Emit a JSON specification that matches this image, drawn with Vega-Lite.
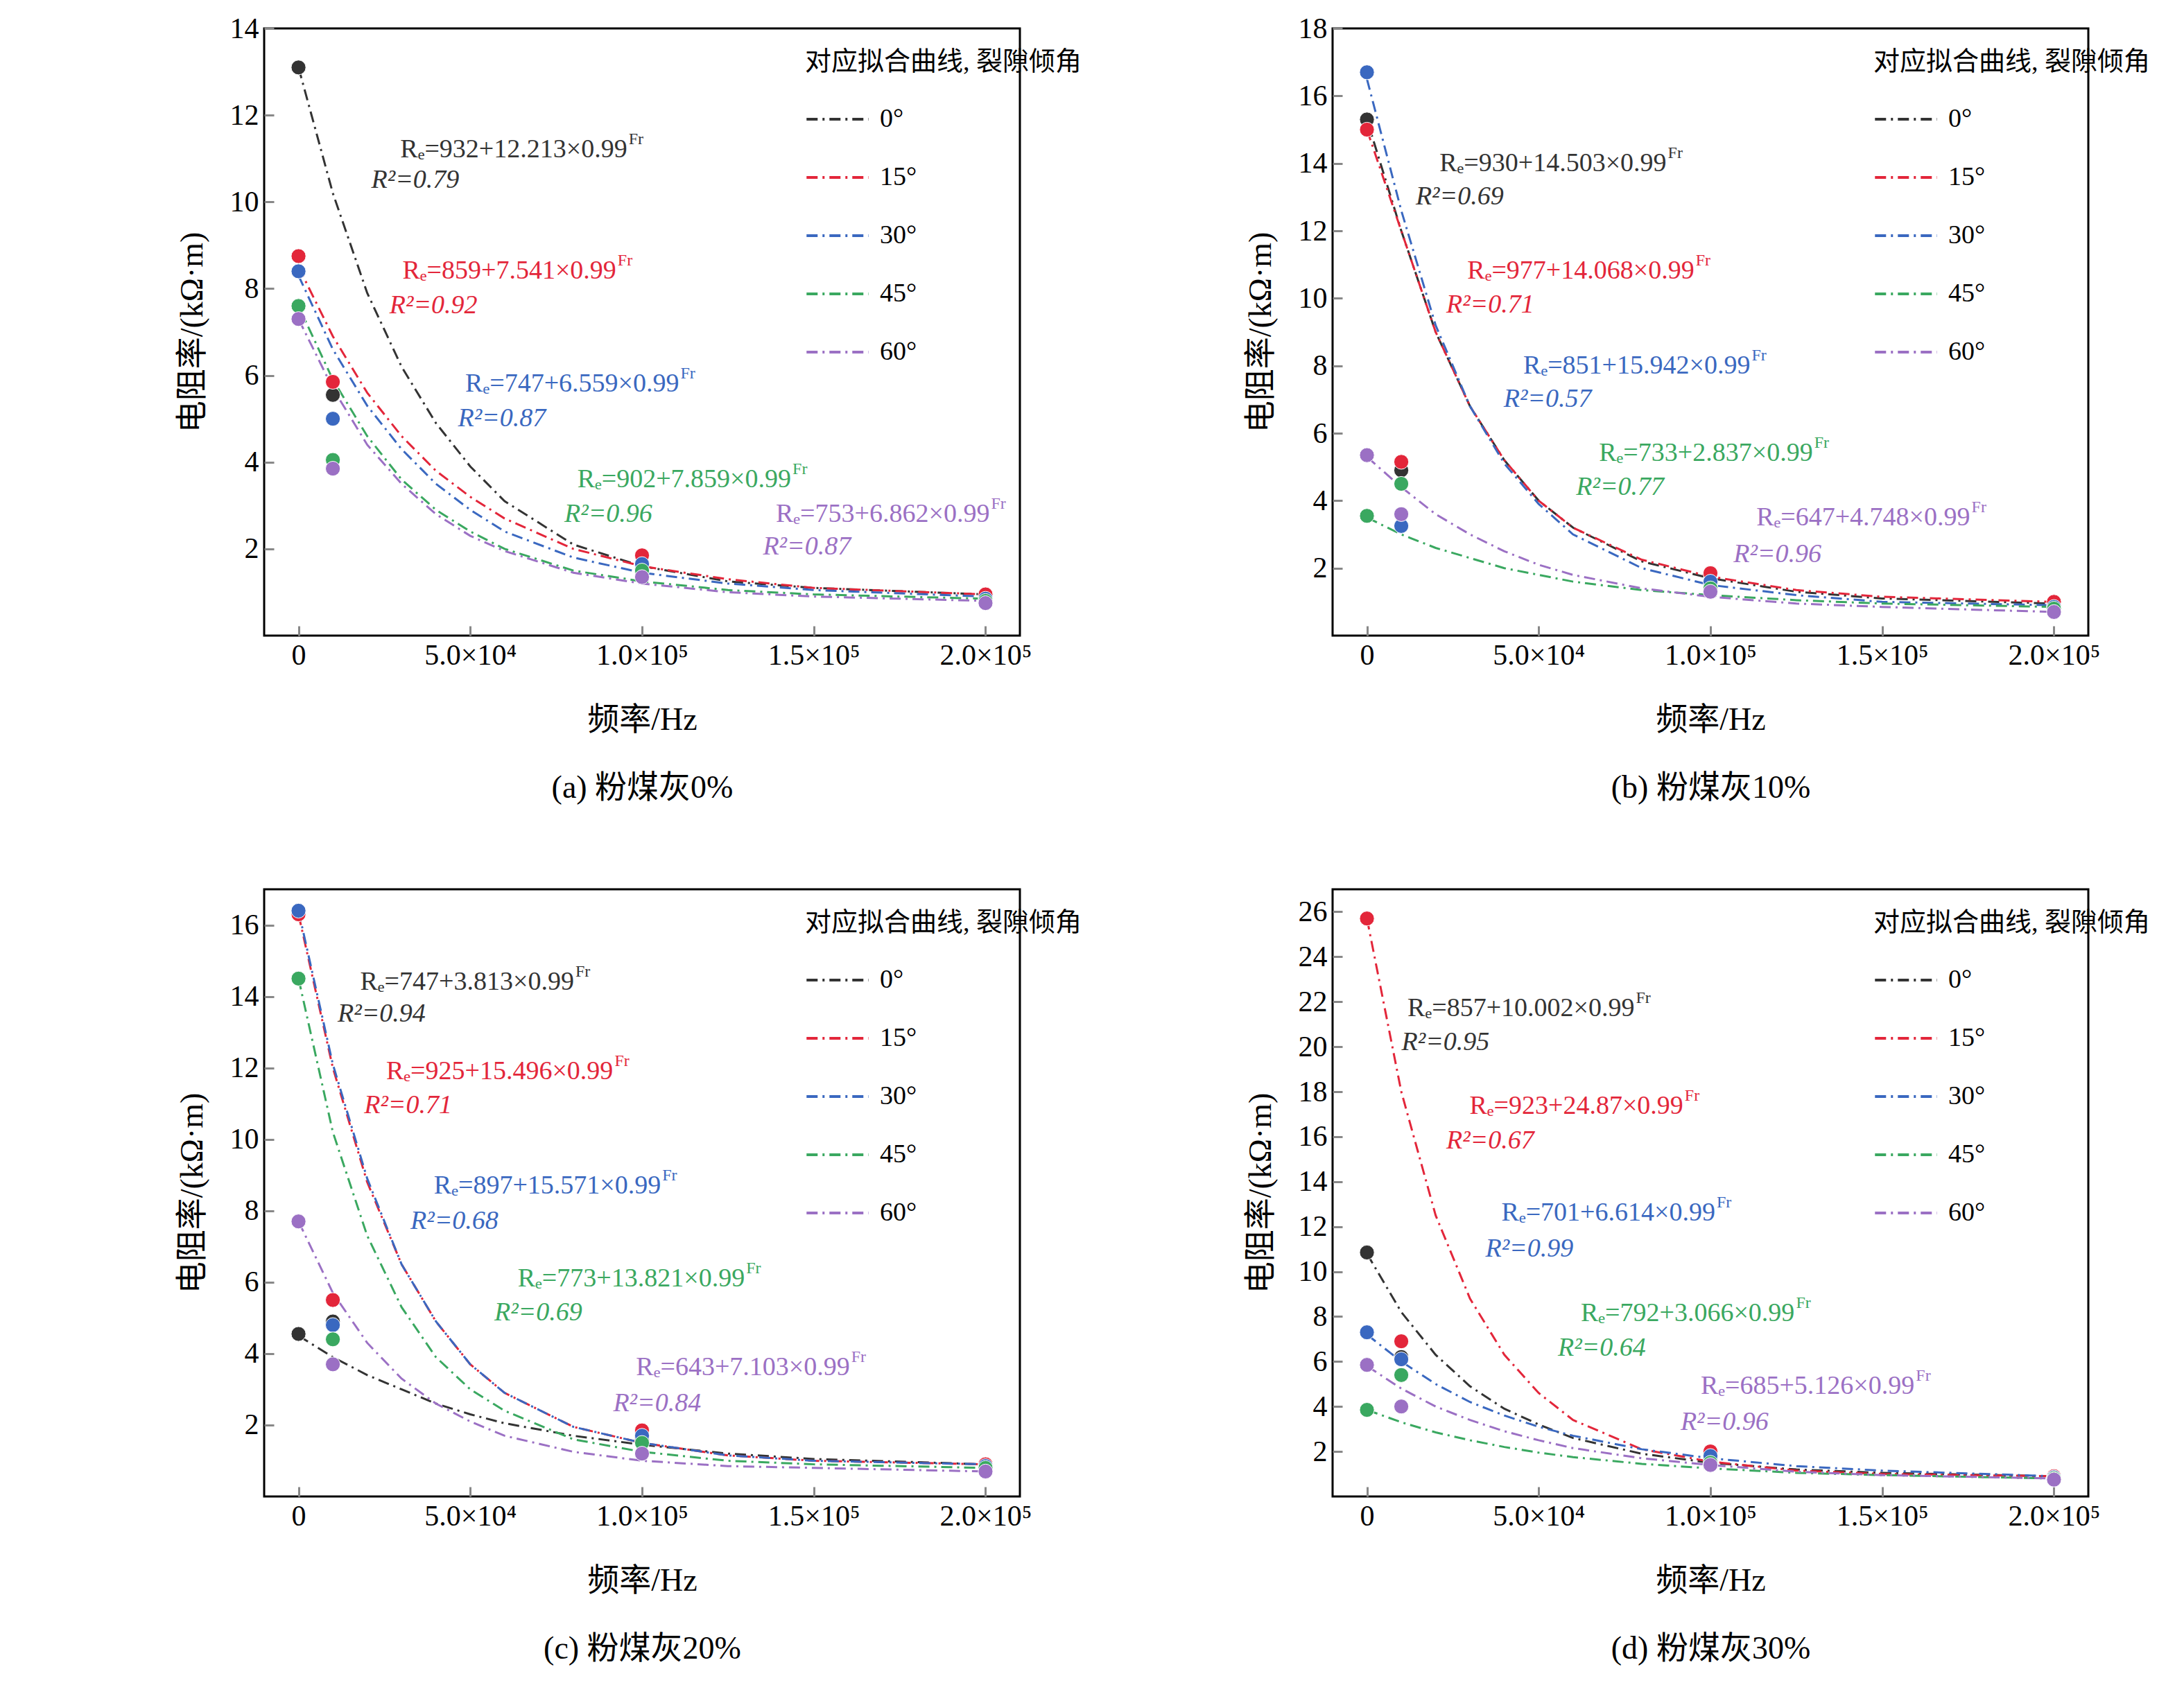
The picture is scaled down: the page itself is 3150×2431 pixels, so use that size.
{
  "$schema": "https://vega.github.io/schema/vega-lite/v6.json",
  "padding": {"left": 252, "top": 18, "right": 20, "bottom": 10},
  "background": "white",
  "config": {
    "font": "Liberation Serif, Noto Sans CJK SC",
    "view": {"stroke": "black", "strokeWidth": 3},
    "axis": {"grid": false, "domain": false, "tickSize": -14, "tickWidth": 3, "labelFontSize": 42, "titleFontSize": 46, "titleFontWeight": "normal", "labelColor": "black", "titleColor": "black", "labelPadding": 22},
    "legend": {"titleFontSize": 38, "labelFontSize": 38, "titleFontWeight": "normal", "titleColor": "black", "labelColor": "black", "rowPadding": 18, "titlePadding": 16, "labelOffset": 30, "titleLimit": 1000, "labelLimit": 500},
    "text": {"fontSize": 38},
    "concat": {"spacing": 120}
  },
  "resolve": {"scale": {"color": "independent", "stroke": "independent", "fill": "independent"}, "legend": {"color": "independent", "stroke": "independent", "fill": "independent"}},
  "datasets": {
    "fit": [
      {"p":"a","x":0,"0°":13.1,"15°":8.5,"30°":8.3,"45°":7.6,"60°":7.3},
      {"p":"a","x":10000,"0°":10.2,"15°":6.9,"30°":6.6,"45°":5.9,"60°":5.7},
      {"p":"a","x":20000,"0°":7.9,"15°":5.6,"30°":5.3,"45°":4.6,"60°":4.4},
      {"p":"a","x":30000,"0°":6.2,"15°":4.6,"30°":4.3,"45°":3.6,"60°":3.5},
      {"p":"a","x":40000,"0°":4.9,"15°":3.8,"30°":3.5,"45°":2.9,"60°":2.8},
      {"p":"a","x":50000,"0°":3.9,"15°":3.2,"30°":2.9,"45°":2.4,"60°":2.3},
      {"p":"a","x":60000,"0°":3.1,"15°":2.7,"30°":2.4,"45°":2.0,"60°":1.95},
      {"p":"a","x":80000,"0°":2.1,"15°":2.0,"30°":1.8,"45°":1.5,"60°":1.45},
      {"p":"a","x":100000,"0°":1.6,"15°":1.6,"30°":1.45,"45°":1.25,"60°":1.2},
      {"p":"a","x":125000,"0°":1.25,"15°":1.3,"30°":1.2,"45°":1.05,"60°":1.0},
      {"p":"a","x":150000,"0°":1.1,"15°":1.1,"30°":1.05,"45°":0.95,"60°":0.9},
      {"p":"a","x":200000,"0°":0.95,"15°":0.95,"30°":0.9,"45°":0.85,"60°":0.8},
      {"p":"b","x":0,"0°":15.3,"15°":15.0,"30°":16.5,"45°":3.5,"60°":5.3},
      {"p":"b","x":10000,"0°":12.0,"15°":12.0,"30°":12.6,"45°":3.0,"60°":4.4},
      {"p":"b","x":20000,"0°":9.0,"15°":9.0,"30°":9.2,"45°":2.6,"60°":3.6},
      {"p":"b","x":30000,"0°":6.8,"15°":6.8,"30°":6.8,"45°":2.3,"60°":3.0},
      {"p":"b","x":40000,"0°":5.2,"15°":5.2,"30°":5.1,"45°":2.0,"60°":2.5},
      {"p":"b","x":50000,"0°":4.0,"15°":4.0,"30°":3.9,"45°":1.8,"60°":2.1},
      {"p":"b","x":60000,"0°":3.2,"15°":3.2,"30°":3.0,"45°":1.6,"60°":1.8},
      {"p":"b","x":80000,"0°":2.2,"15°":2.25,"30°":2.0,"45°":1.35,"60°":1.4},
      {"p":"b","x":100000,"0°":1.7,"15°":1.75,"30°":1.5,"45°":1.2,"60°":1.15},
      {"p":"b","x":125000,"0°":1.3,"15°":1.35,"30°":1.2,"45°":1.05,"60°":0.95},
      {"p":"b","x":150000,"0°":1.1,"15°":1.15,"30°":1.0,"45°":0.95,"60°":0.85},
      {"p":"b","x":200000,"0°":0.95,"15°":1.0,"30°":0.9,"45°":0.85,"60°":0.7},
      {"p":"c","x":0,"0°":4.5,"15°":16.3,"30°":16.4,"45°":14.5,"60°":7.7},
      {"p":"c","x":10000,"0°":3.9,"15°":12.0,"30°":12.1,"45°":10.2,"60°":5.7},
      {"p":"c","x":20000,"0°":3.4,"15°":8.8,"30°":8.9,"45°":7.3,"60°":4.3},
      {"p":"c","x":30000,"0°":3.0,"15°":6.5,"30°":6.5,"45°":5.3,"60°":3.3},
      {"p":"c","x":40000,"0°":2.6,"15°":4.9,"30°":4.9,"45°":3.9,"60°":2.6},
      {"p":"c","x":50000,"0°":2.3,"15°":3.7,"30°":3.7,"45°":3.0,"60°":2.1},
      {"p":"c","x":60000,"0°":2.05,"15°":2.9,"30°":2.9,"45°":2.4,"60°":1.7},
      {"p":"c","x":80000,"0°":1.7,"15°":1.95,"30°":1.95,"45°":1.6,"60°":1.25},
      {"p":"c","x":100000,"0°":1.45,"15°":1.5,"30°":1.5,"45°":1.25,"60°":1.0},
      {"p":"c","x":125000,"0°":1.2,"15°":1.15,"30°":1.15,"45°":1.0,"60°":0.85},
      {"p":"c","x":150000,"0°":1.05,"15°":1.0,"30°":1.0,"45°":0.9,"60°":0.8},
      {"p":"c","x":200000,"0°":0.9,"15°":0.9,"30°":0.9,"45°":0.8,"60°":0.7},
      {"p":"d","x":0,"0°":10.8,"15°":25.7,"30°":7.2,"45°":3.85,"60°":5.8},
      {"p":"d","x":10000,"0°":8.2,"15°":18.0,"30°":6.0,"45°":3.3,"60°":4.8},
      {"p":"d","x":20000,"0°":6.3,"15°":12.5,"30°":5.0,"45°":2.85,"60°":4.0},
      {"p":"d","x":30000,"0°":4.9,"15°":8.8,"30°":4.2,"45°":2.5,"60°":3.4},
      {"p":"d","x":40000,"0°":3.9,"15°":6.3,"30°":3.6,"45°":2.2,"60°":2.9},
      {"p":"d","x":50000,"0°":3.2,"15°":4.6,"30°":3.1,"45°":1.95,"60°":2.5},
      {"p":"d","x":60000,"0°":2.6,"15°":3.4,"30°":2.7,"45°":1.75,"60°":2.15},
      {"p":"d","x":80000,"0°":1.9,"15°":2.1,"30°":2.1,"45°":1.45,"60°":1.7},
      {"p":"d","x":100000,"0°":1.5,"15°":1.55,"30°":1.7,"45°":1.25,"60°":1.4},
      {"p":"d","x":125000,"0°":1.2,"15°":1.15,"30°":1.35,"45°":1.05,"60°":1.1},
      {"p":"d","x":150000,"0°":1.05,"15°":1.0,"30°":1.15,"45°":0.95,"60°":0.95},
      {"p":"d","x":200000,"0°":0.9,"15°":0.9,"30°":0.9,"45°":0.8,"60°":0.8}
    ],
    "pts": [
      {"p":"a","x":0,"0°":13.1,"15°":8.75,"30°":8.4,"45°":7.6,"60°":7.3},
      {"p":"a","x":10000,"0°":5.55,"15°":5.85,"30°":5.0,"45°":4.05,"60°":3.85},
      {"p":"a","x":100000,"0°":1.5,"15°":1.85,"30°":1.65,"45°":1.5,"60°":1.35},
      {"p":"a","x":200000,"0°":0.9,"15°":0.95,"30°":0.85,"45°":0.8,"60°":0.75},
      {"p":"b","x":0,"0°":15.3,"15°":15.0,"30°":16.7,"45°":3.55,"60°":5.35},
      {"p":"b","x":10000,"0°":4.9,"15°":5.15,"30°":3.25,"45°":4.5,"60°":3.6},
      {"p":"b","x":100000,"0°":1.5,"15°":1.85,"30°":1.6,"45°":1.4,"60°":1.3},
      {"p":"b","x":200000,"0°":0.9,"15°":1.0,"30°":0.85,"45°":0.8,"60°":0.7},
      {"p":"c","x":0,"0°":4.55,"15°":16.3,"30°":16.4,"45°":14.5,"60°":7.7},
      {"p":"c","x":10000,"0°":4.9,"15°":5.5,"30°":4.8,"45°":4.4,"60°":3.7},
      {"p":"c","x":100000,"0°":1.6,"15°":1.85,"30°":1.7,"45°":1.5,"60°":1.2},
      {"p":"c","x":200000,"0°":0.9,"15°":0.9,"30°":0.85,"45°":0.8,"60°":0.7},
      {"p":"d","x":0,"0°":10.85,"15°":25.7,"30°":7.3,"45°":3.85,"60°":5.85},
      {"p":"d","x":10000,"0°":6.2,"15°":6.9,"30°":6.1,"45°":5.4,"60°":4.0},
      {"p":"d","x":100000,"0°":1.7,"15°":2.0,"30°":1.8,"45°":1.5,"60°":1.4},
      {"p":"d","x":200000,"0°":0.85,"15°":0.9,"30°":0.85,"45°":0.8,"60°":0.75}
    ],
    "eq": [
      {"p":"a","k":"0°","xl":21200,"xr":95700,"y":11.2,"ry":10.5,"eq":"Rₑ=932+12.213×0.99","r2":"R²=0.79"},
      {"p":"a","k":"15°","xl":26500,"xr":92500,"y":8.4,"ry":7.6,"eq":"Rₑ=859+7.541×0.99","r2":"R²=0.92"},
      {"p":"a","k":"30°","xl":46400,"xr":110800,"y":5.8,"ry":5.0,"eq":"Rₑ=747+6.559×0.99","r2":"R²=0.87"},
      {"p":"a","k":"45°","xl":77400,"xr":143400,"y":3.6,"ry":2.8,"eq":"Rₑ=902+7.859×0.99","r2":"R²=0.96"},
      {"p":"a","k":"60°","xl":135200,"xr":201200,"y":2.8,"ry":2.05,"eq":"Rₑ=753+6.862×0.99","r2":"R²=0.87"},
      {"p":"b","k":"0°","xl":14200,"xr":87200,"y":14.0,"ry":13.0,"eq":"Rₑ=930+14.503×0.99","r2":"R²=0.69"},
      {"p":"b","k":"15°","xl":23100,"xr":95300,"y":10.8,"ry":9.8,"eq":"Rₑ=977+14.068×0.99","r2":"R²=0.71"},
      {"p":"b","k":"30°","xl":39800,"xr":111600,"y":8.0,"ry":7.0,"eq":"Rₑ=851+15.942×0.99","r2":"R²=0.57"},
      {"p":"b","k":"45°","xl":60900,"xr":129800,"y":5.4,"ry":4.4,"eq":"Rₑ=733+2.837×0.99","r2":"R²=0.77"},
      {"p":"b","k":"60°","xl":106700,"xr":175600,"y":3.5,"ry":2.4,"eq":"Rₑ=647+4.748×0.99","r2":"R²=0.96"},
      {"p":"c","k":"0°","xl":11400,"xr":80200,"y":14.4,"ry":13.5,"eq":"Rₑ=747+3.813×0.99","r2":"R²=0.94"},
      {"p":"c","k":"15°","xl":19100,"xr":91600,"y":11.9,"ry":10.95,"eq":"Rₑ=925+15.496×0.99","r2":"R²=0.71"},
      {"p":"c","k":"30°","xl":32600,"xr":105500,"y":8.7,"ry":7.7,"eq":"Rₑ=897+15.571×0.99","r2":"R²=0.68"},
      {"p":"c","k":"45°","xl":57000,"xr":129900,"y":6.1,"ry":5.15,"eq":"Rₑ=773+13.821×0.99","r2":"R²=0.69"},
      {"p":"c","k":"60°","xl":91600,"xr":160500,"y":3.6,"ry":2.6,"eq":"Rₑ=643+7.103×0.99","r2":"R²=0.84"},
      {"p":"d","k":"0°","xl":10100,"xr":77900,"y":21.7,"ry":20.2,"eq":"Rₑ=857+10.002×0.99","r2":"R²=0.95"},
      {"p":"d","k":"15°","xl":23100,"xr":92100,"y":17.35,"ry":15.8,"eq":"Rₑ=923+24.87×0.99","r2":"R²=0.67"},
      {"p":"d","k":"30°","xl":34500,"xr":101400,"y":12.6,"ry":11.0,"eq":"Rₑ=701+6.614×0.99","r2":"R²=0.99"},
      {"p":"d","k":"45°","xl":55600,"xr":124500,"y":8.15,"ry":6.6,"eq":"Rₑ=792+3.066×0.99","r2":"R²=0.64"},
      {"p":"d","k":"60°","xl":91300,"xr":159400,"y":4.9,"ry":3.3,"eq":"Rₑ=685+5.126×0.99","r2":"R²=0.96"}
    ]
  },
  "vconcat": [
    {"resolve": {"scale": {"color": "independent", "stroke": "independent", "fill": "independent"}, "legend": {"color": "independent", "stroke": "independent", "fill": "independent"}}, "spacing": 230, "hconcat": [
      {"width": 1090, "height": 876, "layer": [
        {"data": {"name": "fit"}, "transform": [{"filter": "datum.p == 'a'"}, {"fold": ["0°","15°","30°","45°","60°"], "as": ["sl","y"]}],
         "mark": {"type": "line", "strokeDash": [16,7,3,7], "strokeWidth": 3},
         "encoding": {
           "x": {"field": "x", "type": "quantitative", "scale": {"domain": [-10000, 210000], "nice": false}, "axis": {"values": [0,50000,100000,150000,200000], "labelExpr": "datum.value == 0 ? '0' : datum.value == 50000 ? '5.0×10⁴' : datum.value == 100000 ? '1.0×10⁵' : datum.value == 150000 ? '1.5×10⁵' : '2.0×10⁵'", "title": ["频率/Hz", "(a) 粉煤灰0%"], "titleLineHeight": 98, "titlePadding": 50}},
           "y": {"field": "y", "type": "quantitative", "scale": {"domain": [0, 14], "nice": false}, "axis": {"values": [2,4,6,8,10,12,14], "format": "d", "title": "电阻率/(kΩ·m)", "titlePadding": 30}},
           "stroke": {"field": "sl", "type": "nominal", "scale": {"domain": ["0°","15°","30°","45°","60°"], "range": ["#333333","#e3263a","#3a68c0","#3aa860","#9b70c4"]}, "legend": {"title": "对应拟合曲线", "orient": "none", "legendX": 780, "legendY": 30, "symbolType": "stroke", "symbolSize": 8000, "symbolStrokeWidth": 4, "symbolDash": [16,7,3,7], "labelOffset": 14}}}},
        {"data": {"name": "pts"}, "transform": [{"filter": "datum.p == 'a'"}, {"fold": ["0°","15°","30°","45°","60°"], "as": ["s","y"]}],
         "mark": {"type": "point", "filled": true, "shape": "circle", "size": 450, "opacity": 1, "stroke": "white", "strokeWidth": 1},
         "encoding": {"x": {"field": "x", "type": "quantitative"}, "y": {"field": "y", "type": "quantitative"},
           "color": {"field": "s", "type": "nominal", "scale": {"domain": ["0°","15°","30°","45°","60°"], "range": ["#333333","#e3263a","#3a68c0","#3aa860","#9b70c4"]}, "legend": {"title": "裂隙倾角", "orient": "none", "legendX": 600, "legendY": 30, "symbolSize": 450}}}},
        {"data": {"name": "eq"}, "transform": [{"filter": "datum.p == 'a'"}], "mark": {"type": "text", "align": "right", "baseline": "middle"},
         "encoding": {"x": {"field": "xr", "type": "quantitative"}, "y": {"field": "y", "type": "quantitative"}, "text": {"field": "eq"}, "fill": {"field": "k", "type": "nominal", "scale": {"domain": ["0°","15°","30°","45°","60°"], "range": ["#333333","#e3263a","#3a68c0","#3aa860","#9b70c4"]}, "legend": null}}},
        {"data": {"name": "eq"}, "transform": [{"filter": "datum.p == 'a'"}], "mark": {"type": "text", "align": "left", "baseline": "middle", "fontSize": 24, "dy": -15, "dx": 2, "text": "Fr"},
         "encoding": {"x": {"field": "xr", "type": "quantitative"}, "y": {"field": "y", "type": "quantitative"}, "fill": {"field": "k", "type": "nominal", "legend": null}}},
        {"data": {"name": "eq"}, "transform": [{"filter": "datum.p == 'a'"}], "mark": {"type": "text", "align": "left", "baseline": "middle", "fontStyle": "italic"},
         "encoding": {"x": {"field": "xl", "type": "quantitative"}, "y": {"field": "ry", "type": "quantitative"}, "text": {"field": "r2"}, "fill": {"field": "k", "type": "nominal", "legend": null}}}
      ]},
      {"width": 1090, "height": 876, "layer": [
        {"data": {"name": "fit"}, "transform": [{"filter": "datum.p == 'b'"}, {"fold": ["0°","15°","30°","45°","60°"], "as": ["sl","y"]}],
         "mark": {"type": "line", "strokeDash": [16,7,3,7], "strokeWidth": 3},
         "encoding": {
           "x": {"field": "x", "type": "quantitative", "scale": {"domain": [-10000, 210000], "nice": false}, "axis": {"values": [0,50000,100000,150000,200000], "labelExpr": "datum.value == 0 ? '0' : datum.value == 50000 ? '5.0×10⁴' : datum.value == 100000 ? '1.0×10⁵' : datum.value == 150000 ? '1.5×10⁵' : '2.0×10⁵'", "title": ["频率/Hz", "(b) 粉煤灰10%"], "titleLineHeight": 98, "titlePadding": 50}},
           "y": {"field": "y", "type": "quantitative", "scale": {"domain": [0, 18], "nice": false}, "axis": {"values": [2,4,6,8,10,12,14,16,18], "format": "d", "title": "电阻率/(kΩ·m)", "titlePadding": 30}},
           "stroke": {"field": "sl", "type": "nominal", "scale": {"domain": ["0°","15°","30°","45°","60°"], "range": ["#333333","#e3263a","#3a68c0","#3aa860","#9b70c4"]}, "legend": {"title": "对应拟合曲线", "orient": "none", "legendX": 780, "legendY": 30, "symbolType": "stroke", "symbolSize": 8000, "symbolStrokeWidth": 4, "symbolDash": [16,7,3,7], "labelOffset": 14}}}},
        {"data": {"name": "pts"}, "transform": [{"filter": "datum.p == 'b'"}, {"fold": ["0°","15°","30°","45°","60°"], "as": ["s","y"]}],
         "mark": {"type": "point", "filled": true, "shape": "circle", "size": 450, "opacity": 1, "stroke": "white", "strokeWidth": 1},
         "encoding": {"x": {"field": "x", "type": "quantitative"}, "y": {"field": "y", "type": "quantitative"},
           "color": {"field": "s", "type": "nominal", "scale": {"domain": ["0°","15°","30°","45°","60°"], "range": ["#333333","#e3263a","#3a68c0","#3aa860","#9b70c4"]}, "legend": {"title": "裂隙倾角", "orient": "none", "legendX": 600, "legendY": 30, "symbolSize": 450}}}},
        {"data": {"name": "eq"}, "transform": [{"filter": "datum.p == 'b'"}], "mark": {"type": "text", "align": "right", "baseline": "middle"},
         "encoding": {"x": {"field": "xr", "type": "quantitative"}, "y": {"field": "y", "type": "quantitative"}, "text": {"field": "eq"}, "fill": {"field": "k", "type": "nominal", "scale": {"domain": ["0°","15°","30°","45°","60°"], "range": ["#333333","#e3263a","#3a68c0","#3aa860","#9b70c4"]}, "legend": null}}},
        {"data": {"name": "eq"}, "transform": [{"filter": "datum.p == 'b'"}], "mark": {"type": "text", "align": "left", "baseline": "middle", "fontSize": 24, "dy": -15, "dx": 2, "text": "Fr"},
         "encoding": {"x": {"field": "xr", "type": "quantitative"}, "y": {"field": "y", "type": "quantitative"}, "fill": {"field": "k", "type": "nominal", "legend": null}}},
        {"data": {"name": "eq"}, "transform": [{"filter": "datum.p == 'b'"}], "mark": {"type": "text", "align": "left", "baseline": "middle", "fontStyle": "italic"},
         "encoding": {"x": {"field": "xl", "type": "quantitative"}, "y": {"field": "ry", "type": "quantitative"}, "text": {"field": "r2"}, "fill": {"field": "k", "type": "nominal", "legend": null}}}
      ]}
    ]},
    {"resolve": {"scale": {"color": "independent", "stroke": "independent", "fill": "independent"}, "legend": {"color": "independent", "stroke": "independent", "fill": "independent"}}, "spacing": 230, "hconcat": [
      {"width": 1090, "height": 876, "layer": [
        {"data": {"name": "fit"}, "transform": [{"filter": "datum.p == 'c'"}, {"fold": ["0°","15°","30°","45°","60°"], "as": ["sl","y"]}],
         "mark": {"type": "line", "strokeDash": [16,7,3,7], "strokeWidth": 3},
         "encoding": {
           "x": {"field": "x", "type": "quantitative", "scale": {"domain": [-10000, 210000], "nice": false}, "axis": {"values": [0,50000,100000,150000,200000], "labelExpr": "datum.value == 0 ? '0' : datum.value == 50000 ? '5.0×10⁴' : datum.value == 100000 ? '1.0×10⁵' : datum.value == 150000 ? '1.5×10⁵' : '2.0×10⁵'", "title": ["频率/Hz", "(c) 粉煤灰20%"], "titleLineHeight": 98, "titlePadding": 50}},
           "y": {"field": "y", "type": "quantitative", "scale": {"domain": [0, 17], "nice": false}, "axis": {"values": [2,4,6,8,10,12,14,16], "format": "d", "title": "电阻率/(kΩ·m)", "titlePadding": 30}},
           "stroke": {"field": "sl", "type": "nominal", "scale": {"domain": ["0°","15°","30°","45°","60°"], "range": ["#333333","#e3263a","#3a68c0","#3aa860","#9b70c4"]}, "legend": {"title": "对应拟合曲线", "orient": "none", "legendX": 780, "legendY": 30, "symbolType": "stroke", "symbolSize": 8000, "symbolStrokeWidth": 4, "symbolDash": [16,7,3,7], "labelOffset": 14}}}},
        {"data": {"name": "pts"}, "transform": [{"filter": "datum.p == 'c'"}, {"fold": ["0°","15°","30°","45°","60°"], "as": ["s","y"]}],
         "mark": {"type": "point", "filled": true, "shape": "circle", "size": 450, "opacity": 1, "stroke": "white", "strokeWidth": 1},
         "encoding": {"x": {"field": "x", "type": "quantitative"}, "y": {"field": "y", "type": "quantitative"},
           "color": {"field": "s", "type": "nominal", "scale": {"domain": ["0°","15°","30°","45°","60°"], "range": ["#333333","#e3263a","#3a68c0","#3aa860","#9b70c4"]}, "legend": {"title": "裂隙倾角", "orient": "none", "legendX": 600, "legendY": 30, "symbolSize": 450}}}},
        {"data": {"name": "eq"}, "transform": [{"filter": "datum.p == 'c'"}], "mark": {"type": "text", "align": "right", "baseline": "middle"},
         "encoding": {"x": {"field": "xr", "type": "quantitative"}, "y": {"field": "y", "type": "quantitative"}, "text": {"field": "eq"}, "fill": {"field": "k", "type": "nominal", "scale": {"domain": ["0°","15°","30°","45°","60°"], "range": ["#333333","#e3263a","#3a68c0","#3aa860","#9b70c4"]}, "legend": null}}},
        {"data": {"name": "eq"}, "transform": [{"filter": "datum.p == 'c'"}], "mark": {"type": "text", "align": "left", "baseline": "middle", "fontSize": 24, "dy": -15, "dx": 2, "text": "Fr"},
         "encoding": {"x": {"field": "xr", "type": "quantitative"}, "y": {"field": "y", "type": "quantitative"}, "fill": {"field": "k", "type": "nominal", "legend": null}}},
        {"data": {"name": "eq"}, "transform": [{"filter": "datum.p == 'c'"}], "mark": {"type": "text", "align": "left", "baseline": "middle", "fontStyle": "italic"},
         "encoding": {"x": {"field": "xl", "type": "quantitative"}, "y": {"field": "ry", "type": "quantitative"}, "text": {"field": "r2"}, "fill": {"field": "k", "type": "nominal", "legend": null}}}
      ]},
      {"width": 1090, "height": 876, "layer": [
        {"data": {"name": "fit"}, "transform": [{"filter": "datum.p == 'd'"}, {"fold": ["0°","15°","30°","45°","60°"], "as": ["sl","y"]}],
         "mark": {"type": "line", "strokeDash": [16,7,3,7], "strokeWidth": 3},
         "encoding": {
           "x": {"field": "x", "type": "quantitative", "scale": {"domain": [-10000, 210000], "nice": false}, "axis": {"values": [0,50000,100000,150000,200000], "labelExpr": "datum.value == 0 ? '0' : datum.value == 50000 ? '5.0×10⁴' : datum.value == 100000 ? '1.0×10⁵' : datum.value == 150000 ? '1.5×10⁵' : '2.0×10⁵'", "title": ["频率/Hz", "(d) 粉煤灰30%"], "titleLineHeight": 98, "titlePadding": 50}},
           "y": {"field": "y", "type": "quantitative", "scale": {"domain": [0, 27], "nice": false}, "axis": {"values": [2,4,6,8,10,12,14,16,18,20,22,24,26], "format": "d", "title": "电阻率/(kΩ·m)", "titlePadding": 30}},
           "stroke": {"field": "sl", "type": "nominal", "scale": {"domain": ["0°","15°","30°","45°","60°"], "range": ["#333333","#e3263a","#3a68c0","#3aa860","#9b70c4"]}, "legend": {"title": "对应拟合曲线", "orient": "none", "legendX": 780, "legendY": 30, "symbolType": "stroke", "symbolSize": 8000, "symbolStrokeWidth": 4, "symbolDash": [16,7,3,7], "labelOffset": 14}}}},
        {"data": {"name": "pts"}, "transform": [{"filter": "datum.p == 'd'"}, {"fold": ["0°","15°","30°","45°","60°"], "as": ["s","y"]}],
         "mark": {"type": "point", "filled": true, "shape": "circle", "size": 450, "opacity": 1, "stroke": "white", "strokeWidth": 1},
         "encoding": {"x": {"field": "x", "type": "quantitative"}, "y": {"field": "y", "type": "quantitative"},
           "color": {"field": "s", "type": "nominal", "scale": {"domain": ["0°","15°","30°","45°","60°"], "range": ["#333333","#e3263a","#3a68c0","#3aa860","#9b70c4"]}, "legend": {"title": "裂隙倾角", "orient": "none", "legendX": 600, "legendY": 30, "symbolSize": 450}}}},
        {"data": {"name": "eq"}, "transform": [{"filter": "datum.p == 'd'"}], "mark": {"type": "text", "align": "right", "baseline": "middle"},
         "encoding": {"x": {"field": "xr", "type": "quantitative"}, "y": {"field": "y", "type": "quantitative"}, "text": {"field": "eq"}, "fill": {"field": "k", "type": "nominal", "scale": {"domain": ["0°","15°","30°","45°","60°"], "range": ["#333333","#e3263a","#3a68c0","#3aa860","#9b70c4"]}, "legend": null}}},
        {"data": {"name": "eq"}, "transform": [{"filter": "datum.p == 'd'"}], "mark": {"type": "text", "align": "left", "baseline": "middle", "fontSize": 24, "dy": -15, "dx": 2, "text": "Fr"},
         "encoding": {"x": {"field": "xr", "type": "quantitative"}, "y": {"field": "y", "type": "quantitative"}, "fill": {"field": "k", "type": "nominal", "legend": null}}},
        {"data": {"name": "eq"}, "transform": [{"filter": "datum.p == 'd'"}], "mark": {"type": "text", "align": "left", "baseline": "middle", "fontStyle": "italic"},
         "encoding": {"x": {"field": "xl", "type": "quantitative"}, "y": {"field": "ry", "type": "quantitative"}, "text": {"field": "r2"}, "fill": {"field": "k", "type": "nominal", "legend": null}}}
      ]}
    ]}
  ]
}
